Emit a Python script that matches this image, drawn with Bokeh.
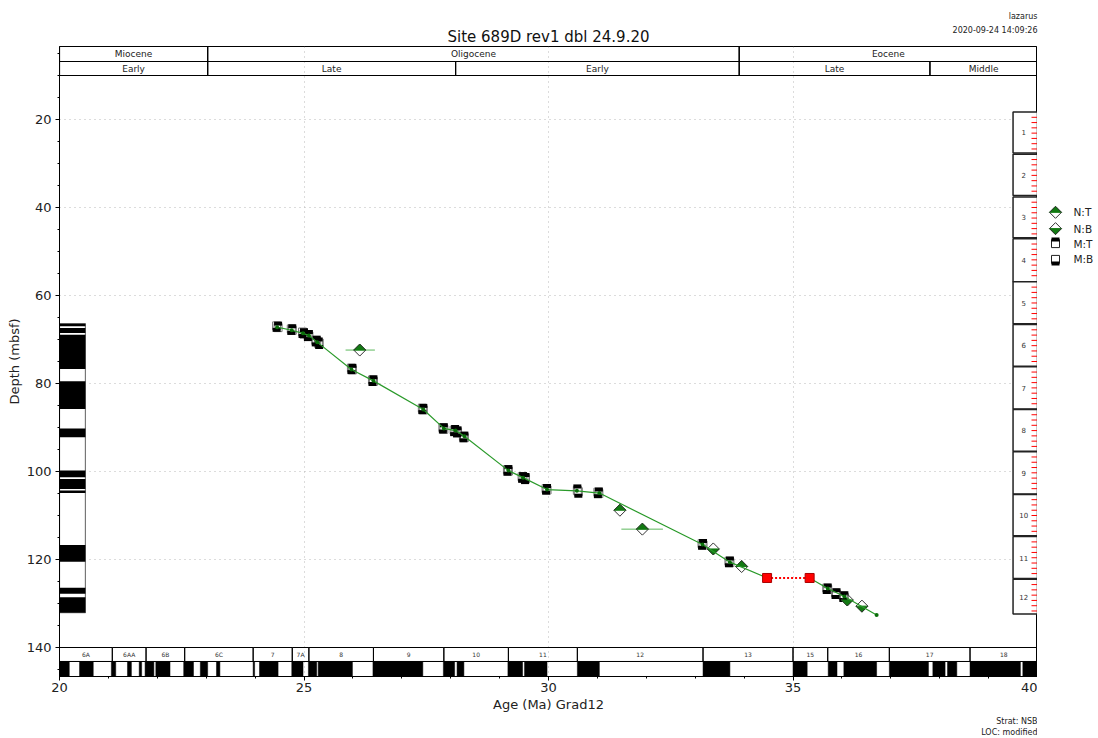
from bokeh.plotting import figure
from bokeh.models import Range1d, FixedTicker, Title
from bokeh.layouts import row, column
from bokeh.embed import file_html
from bokeh.resources import INLINE
from bokeh.core.properties import value

FONT = "DejaVu Sans"

# ---------------- data ----------------
title_text = "Site 689D rev1 dbl 24.9.20"
user_text = "lazarus"
stamp_text = "2020-09-24 14:09:26"
strat_text = "Strat: NSB"
loc_text = "LOC: modified"

epoch_names = ["Miocene", "Oligocene", "Eocene"]
epoch_start = [20.0, 23.03, 33.9]
epoch_end = [23.03, 33.9, 40.0]
subepoch_names = ["Early", "Late", "Early", "Late", "Middle"]
subepoch_start = [20.0, 23.03, 28.1, 33.9, 37.8]
subepoch_end = [23.03, 28.1, 33.9, 37.8, 40.0]

chron_names = ["6A", "6AA", "6B", "6C", "7", "7A", "8", "9", "10", "11", "12", "13", "15", "16", "17", "18"]
chron_start = [20.0, 21.08, 21.77, 22.56, 23.96, 24.76, 25.10, 26.42, 27.86, 29.18, 30.59, 33.16, 35.0, 35.71, 36.97, 38.62]
chron_end = [21.08, 21.77, 22.56, 23.96, 24.76, 25.10, 26.42, 27.86, 29.18, 30.59, 33.16, 35.0, 35.71, 36.97, 38.62, 40.0]

normal_start = [20.0, 20.41, 21.06, 21.39, 21.63, 21.75, 21.97, 22.54, 22.88, 23.21, 23.96, 24.09, 24.75, 25.09,
                25.29, 26.41, 27.85, 28.13, 29.17, 29.51, 30.59, 33.16, 35.0, 35.72, 36.04, 36.97, 37.86, 38.16,
                38.62, 39.70]
normal_end = [20.20, 20.69, 21.15, 21.47, 21.68, 21.93, 22.26, 22.74, 23.03, 23.28, 23.99, 24.47, 24.98, 25.26,
              25.99, 27.43, 28.08, 28.27, 29.47, 29.97, 31.04, 33.71, 35.29, 35.90, 36.71, 37.77, 38.11, 38.35,
              39.65, 40.0]

# site magnetostratigraphy column (depth intervals, mbsf)
col_top, col_bottom = 66.4, 132.1
site_norm_top = [66.4, 67.4, 68.9, 79.5, 90.2, 99.8, 101.7, 104.3, 116.7, 126.4, 128.6]
site_norm_bot = [67.0, 68.5, 76.7, 85.8, 92.2, 101.3, 104.0, 104.9, 120.5, 127.8, 132.1]

# cores
core_names = ["1", "2", "3", "4", "5", "6", "7", "8", "9", "10", "11", "12"]
core_top = [18.3, 27.9, 37.6, 47.1, 56.9, 66.6, 76.2, 85.9, 95.5, 105.2, 114.8, 124.5]
core_bot = [27.6, 37.3, 46.9, 56.9, 66.4, 76.1, 85.8, 95.4, 105.1, 114.6, 124.3, 132.4]

# magnetic datums
mt_age = [24.47, 24.76, 25.00, 25.10, 25.26, 25.30, 25.99, 26.42, 27.44, 27.86, 28.09, 28.14, 28.28,
          29.18, 29.48, 29.53, 29.97, 30.59, 31.03, 33.16, 33.71, 35.71, 35.89, 36.05]
mt_depth = [67.3, 67.9, 68.8, 69.2, 70.5, 70.9, 76.9, 79.5, 86.0, 90.4, 90.8, 91.1, 92.3,
            99.9, 101.5, 101.7, 104.2, 104.3, 105.0, 116.7, 120.7, 126.8, 127.9, 128.6]
mb_age = [24.44, 24.74, 24.97, 25.08, 25.24, 25.31, 25.97, 26.40, 27.42, 27.84, 28.07, 28.13, 28.26,
          29.16, 29.46, 29.52, 29.95, 30.61, 31.01, 33.14, 33.69, 35.69, 35.87, 36.03]
mb_depth = [66.9, 67.6, 68.3, 69.0, 70.2, 70.8, 76.5, 79.2, 85.6, 90.0, 90.6, 90.9, 92.0,
            99.6, 101.2, 101.5, 103.9, 104.6, 104.7, 116.4, 120.4, 126.5, 127.6, 128.3]

# nannofossil datums
nt_age = [26.14, 31.46, 31.92, 33.95]
nt_depth = [72.4, 108.8, 113.1, 121.6]
nt_err_lo = [25.85, 31.46, 31.49, 33.95]
nt_err_hi = [26.45, 31.46, 32.34, 33.95]
nb_age = [33.37, 36.11, 36.41]
nb_depth = [117.6, 129.2, 130.6]

# line of correlation
loc_age = [24.45, 24.75, 24.98, 25.10, 25.27, 25.97, 26.42, 27.44, 27.86, 28.10, 28.28, 29.18, 29.48,
           29.97, 30.58, 31.04, 33.15, 33.71, 34.47]
loc_depth = [67.2, 67.9, 68.6, 69.1, 70.6, 76.8, 79.4, 85.9, 90.2, 90.7, 92.0, 99.8, 101.4,
             104.1, 104.4, 104.9, 116.6, 120.6, 124.2]
hiatus_age = [34.47, 35.34]
hiatus_depth = [124.2, 124.2]
loc2_age = [35.34, 35.71, 36.05, 36.71]
loc2_depth = [124.2, 126.6, 128.4, 132.6]

legend_labels = ["N:T", "N:B", "M:T", "M:B"]

x_ticks = [20, 25, 30, 35, 40]
x_minor = list(range(20, 41))
y_ticks = [20, 40, 60, 80, 100, 120, 140]
y_minor = list(range(0, 150, 5))

# ---------------- layout ----------------
X0, X1 = 20.0, 40.0
Y_TOP, Y_BOT = 3.41, 146.59
FW, FH = 978, 630
BL = 59          # left border of main plot
HH = 45          # header height
LW = 61          # legend panel width
TOTAL_W = BL + FW + LW
SX = (X1 - X0) / FW        # Ma per pixel
SY = (Y_BOT - Y_TOP) / FH  # m per pixel

GREEN_LINE = "#2a9a2a"
GREEN_FILL = "#127a12"
TXT = "#222222"

# ---- header (title + stamp) ----
hdr = figure(width=TOTAL_W, height=HH, title=None, x_range=Range1d(0, TOTAL_W), y_range=Range1d(HH, 0),
             output_backend="svg", toolbar_location=None, min_border=0,
             outline_line_color=None, background_fill_color="white", border_fill_color="white")
hdr.axis.visible = False
hdr.grid.visible = False
hdr.text(x=[BL + FW / 2], y=[36], text=[title_text], text_align="center", text_baseline="middle",
         text_font=value(FONT), text_font_size="15px", text_color="#111111")
hdr.text(x=[BL + FW, BL + FW], y=[16, 30], text=[user_text, stamp_text], text_align="right",
         text_baseline="middle", text_font=value(FONT), text_font_size="8px", text_color=TXT)

# ---- main plot ----
p = figure(frame_width=FW, frame_height=FH, title=None,
           x_range=Range1d(X0, X1), y_range=Range1d(Y_BOT, Y_TOP),
           output_backend="svg", toolbar_location=None,
           min_border_left=BL, min_border_right=0, min_border_top=1, min_border_bottom=10,
           background_fill_color="white", border_fill_color="white",
           outline_line_color="black", outline_line_width=1)

for ax in (p.xaxis[0], p.yaxis[0]):
    ax.major_label_text_font = FONT
    ax.major_label_text_font_size = "13px"
    ax.major_label_text_color = TXT
    ax.axis_label_text_font = FONT
    ax.axis_label_text_font_size = "13px"
    ax.axis_label_text_font_style = "normal"
    ax.axis_label_text_color = TXT
    ax.major_tick_out = 4
    ax.major_tick_in = 0
    ax.minor_tick_out = 2
    ax.minor_tick_in = 0
    ax.axis_line_color = "black"
    ax.major_tick_line_color = "black"
    ax.minor_tick_line_color = "black"

p.xaxis.ticker = FixedTicker(ticks=x_ticks, minor_ticks=x_minor)
p.yaxis.ticker = FixedTicker(ticks=y_ticks, minor_ticks=y_minor)
p.xaxis.axis_label = "Age (Ma) Grad12"
p.yaxis.axis_label = "Depth (mbsf)"
p.xaxis.major_label_standoff = 2
p.xaxis.axis_label_standoff = 2
p.yaxis.major_label_standoff = 4
p.yaxis.axis_label_standoff = 2

p.add_layout(Title(text=strat_text, align="right", text_font=FONT, text_font_size="8px",
                   text_font_style="normal", text_color=TXT, standoff=0), "below")
p.add_layout(Title(text=loc_text, align="right", text_font=FONT, text_font_size="8px",
                   text_font_style="normal", text_color=TXT, standoff=0), "below")

p.xgrid.ticker = FixedTicker(ticks=x_ticks)
p.ygrid.ticker = FixedTicker(ticks=y_ticks)
for g in (p.xgrid[0], p.ygrid[0]):
    g.grid_line_color = "#b8b8b8"
    g.grid_line_dash = "1 4"
    g.grid_line_width = 1

# epoch bands
EP_TOP, EP_MID, EP_BOT = Y_TOP, 6.82, 10.0
p.quad(left=epoch_start, right=epoch_end, top=EP_TOP, bottom=EP_MID,
       fill_alpha=0, line_color="black", line_width=1.2)
p.quad(left=subepoch_start, right=subepoch_end, top=EP_MID, bottom=EP_BOT,
       fill_alpha=0, line_color="black", line_width=1.2)
p.text(x=[(a + b) / 2 for a, b in zip(epoch_start, epoch_end)], y=[(EP_TOP + EP_MID) / 2] * len(epoch_names),
       text=epoch_names, text_align="center", text_baseline="middle",
       text_font=value(FONT), text_font_size="9px", text_color=TXT)
p.text(x=[(a + b) / 2 for a, b in zip(subepoch_start, subepoch_end)], y=[(EP_MID + EP_BOT) / 2] * len(subepoch_names),
       text=subepoch_names, text_align="center", text_baseline="middle",
       text_font=value(FONT), text_font_size="9px", text_color=TXT)

# chron band
CH_TOP, CH_MID, CH_BOT = 140.0, 143.18, Y_BOT
p.quad(left=normal_start, right=normal_end, top=CH_MID, bottom=CH_BOT,
       fill_color="black", line_color="black", line_width=0.5)
p.quad(left=[X0], right=[X1], top=[CH_MID], bottom=[CH_BOT], fill_alpha=0, line_color="black", line_width=1)
p.quad(left=chron_start, right=chron_end, top=CH_TOP, bottom=CH_MID,
       fill_alpha=0, line_color="black", line_width=1)
p.text(x=[(a + b) / 2 for a, b in zip(chron_start, chron_end)], y=[(CH_TOP + CH_MID) / 2] * len(chron_names),
       text=chron_names, text_align="center", text_baseline="middle",
       text_font=value(FONT), text_font_size="6px", text_color="#333333")

# site magnetostratigraphy column
COL_L, COL_R = 20.0, 20.53
p.quad(left=[COL_L], right=[COL_R], top=[col_top], bottom=[col_bottom],
       fill_color="white", line_color="#777777", line_width=1.2)
p.quad(left=COL_L, right=COL_R, top=site_norm_top, bottom=site_norm_bot,
       fill_color="black", line_color=None)

# core column
CORE_L, CORE_R = 39.5, 40.0
p.quad(left=CORE_L, right=CORE_R, top=core_top, bottom=core_bot,
       fill_color="white", line_color="#222222", line_width=1.5)
tick_y = []
for t, b in zip(core_top, core_bot):
    d = t + 1.2
    while d < b - 0.3:
        tick_y.append(d)
        d += 1.2
p.segment(x0=X1 - 6 * SX, x1=X1, y0=tick_y, y1=tick_y, line_color="red", line_width=1)
p.text(x=[39.72] * len(core_names), y=[(t + b) / 2 for t, b in zip(core_top, core_bot)],
       text=core_names, text_align="center", text_baseline="middle",
       text_font=value(FONT), text_font_size="7px", text_color="#333333")


# ---------- marker helpers (half-filled, other half unfilled) ----------
def square_outlines(fig, xs, ys, line_color="#777777"):
    fig.rect(x=xs, y=ys, width=8, height=8, width_units="screen", height_units="screen",
             fill_alpha=0, line_color=line_color, line_width=1)


def square_halves(fig, xs, ys, top_black, half_h_y):
    off = -half_h_y / 2 if top_black else half_h_y / 2
    fig.rect(x=xs, y=[y + off for y in ys], width=8, height=4, width_units="screen", height_units="screen",
             fill_color="black", line_color=None)


def half_diamonds(fig, xs, ys, top_green, hw, hh):
    sgn = -1 if top_green else 1
    fig.patches(xs=[[x - hw, x, x + hw] for x in xs], ys=[[y, y + sgn * hh, y] for y in ys],
                fill_color=GREEN_FILL, line_color=GREEN_FILL, line_width=1)
    fig.patches(xs=[[x - hw, x, x + hw, x] for x in xs], ys=[[y, y - hh, y, y + hh] for y in ys],
                fill_alpha=0, line_color="#333333", line_width=1)


# error bars
p.segment(x0=nt_err_lo, x1=nt_err_hi, y0=nt_depth, y1=nt_depth, line_color="#5cb85c", line_width=1)

# magnetic datums: outlines first, then black halves
square_outlines(p, mb_age, mb_depth)
square_outlines(p, mt_age, mt_depth)
square_halves(p, mb_age, mb_depth, False, 8 * SY)
square_halves(p, mt_age, mt_depth, True, 8 * SY)

# nanno datums
half_diamonds(p, nt_age, nt_depth, True, 6 * SX, 6 * SY)
half_diamonds(p, nb_age, nb_depth, False, 6 * SX, 6 * SY)

# LOC
p.line(loc_age, loc_depth, line_color=GREEN_LINE, line_width=1.2)
p.line(loc2_age, loc2_depth, line_color=GREEN_LINE, line_width=1.2)
p.scatter(loc_age + loc2_age, loc_depth + loc2_depth, marker="circle", size=4,
          fill_color="#0a6e0a", line_color=None)
p.line(hiatus_age, hiatus_depth, line_color="red", line_width=2, line_dash="2 2")
p.scatter(hiatus_age, hiatus_depth, marker="square", size=9, fill_color="red", line_color="#aa0000")

# ---------------- legend panel (same depth scale as the main frame) ----------------
leg = figure(frame_width=LW, frame_height=FH, title=None, x_range=Range1d(0, LW), y_range=Range1d(Y_BOT, Y_TOP),
             output_backend="svg", toolbar_location=None, min_border=0, min_border_top=1,
             outline_line_color=None, background_fill_color="white", border_fill_color="white")
leg.axis.visible = False
leg.grid.visible = False
leg_y = [41.1, 44.8, 48.2, 51.8]
half_diamonds(leg, [18], [leg_y[0]], True, 6, 6 * SY)
half_diamonds(leg, [18], [leg_y[1]], False, 6, 6 * SY)
square_outlines(leg, [18, 18], leg_y[2:], line_color="#222222")
square_halves(leg, [18], [leg_y[2]], True, 8 * SY)
square_halves(leg, [18], [leg_y[3]], False, 8 * SY)
leg.text(x=[36] * 4, y=leg_y, text=legend_labels, text_baseline="middle",
         text_font=value(FONT), text_font_size="10.5px", text_color=TXT)

layout = column(hdr, row(p, leg))
open("out.html", "w").write(file_html(layout, INLINE))
